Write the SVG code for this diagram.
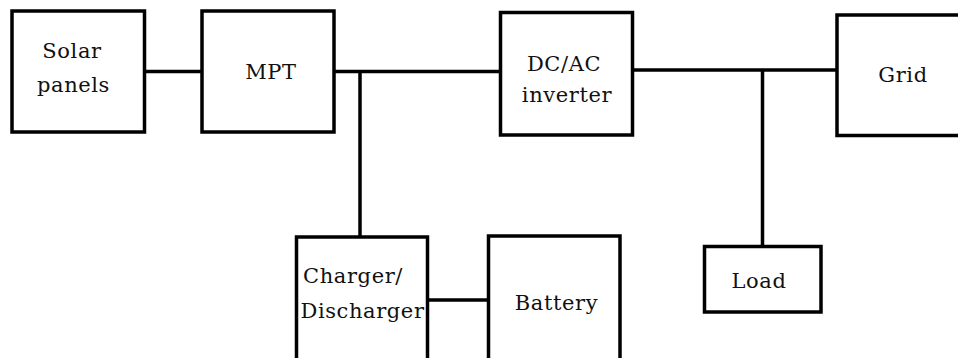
<svg xmlns="http://www.w3.org/2000/svg" width="958" height="358" viewBox="0 0 958 358">
<style>
.box{fill:#fff;stroke:#000;stroke-width:3.5}
.ln{stroke:#000;stroke-width:3.5;fill:none}
text{font-family:"DejaVu Serif","Liberation Serif",serif;font-size:21px;fill:#111;text-anchor:middle;letter-spacing:0.6px}
</style>
<rect width="958" height="358" fill="#fff"/>
<g id="connectors">
<line class="ln" x1="144" y1="71.5" x2="202" y2="71.5"/>
<line class="ln" x1="334" y1="71.5" x2="500.5" y2="71.5"/>
<line class="ln" x1="360" y1="71.5" x2="360" y2="237"/>
<line class="ln" x1="427.5" y1="300" x2="488.5" y2="300"/>
<line class="ln" x1="632.5" y1="70" x2="837" y2="70"/>
<line class="ln" x1="762.5" y1="70" x2="762.5" y2="246.5"/>
</g>
<g id="solar">
<rect class="box" x="12" y="11" width="132.5" height="121"/>
<text x="72" y="58">Solar</text>
<text x="73.5" y="92">panels</text>
</g>
<g id="mpt">
<rect class="box" x="202" y="11" width="132" height="121"/>
<text x="271" y="79">MPT</text>
</g>
<g id="dcac">
<rect class="box" x="500.5" y="12.5" width="132" height="122.5"/>
<text x="564" y="71">DC/AC</text>
<text x="567" y="102">inverter</text>
</g>
<g id="grid">
<rect class="box" x="837" y="15" width="140" height="120.5"/>
<text x="903" y="82">Grid</text>
</g>
<g id="charger">
<rect class="box" x="296.5" y="237" width="131" height="140"/>
<text x="353" y="283">Charger/</text>
<text x="362.5" y="318">Discharger</text>
</g>
<g id="battery">
<rect class="box" x="488.5" y="236" width="131.5" height="140"/>
<text x="556.5" y="310">Battery</text>
</g>
<g id="load">
<rect class="box" x="704.5" y="246.5" width="116.5" height="65.5"/>
<text x="759" y="288">Load</text>
</g>
</svg>
